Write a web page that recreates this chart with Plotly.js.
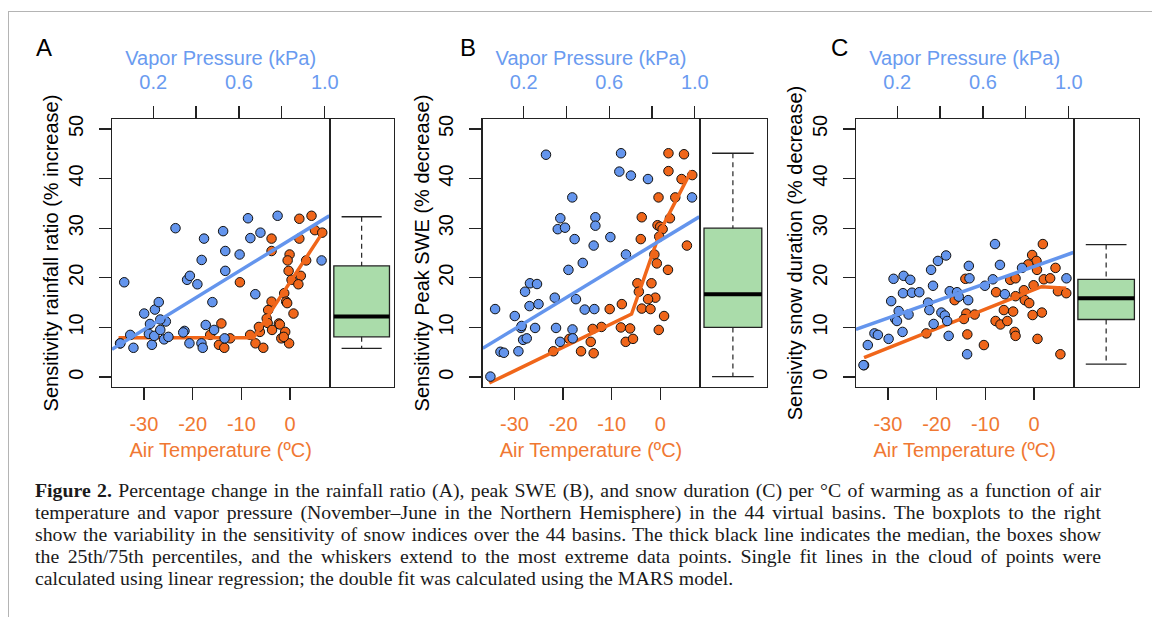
<!DOCTYPE html>
<html><head><meta charset="utf-8">
<script src="https://cdn.plot.ly/plotly-3.0.1.min.js"></script>
<style>
html,body{margin:0;padding:0;background:#fff;}
#wrap{position:relative;width:1152px;height:617px;overflow:hidden;background:#fff;}
#chart{position:absolute;left:0;top:0;width:1152px;height:617px;}
#bt{position:absolute;left:8px;top:11px;width:1144px;height:0;border-top:1.5px solid #b4b4b4;}
#bl{position:absolute;left:8px;top:11px;width:0;height:606px;border-left:1.5px solid #b4b4b4;}
#cap{position:absolute;left:35px;top:479px;width:1066px;font-family:'Liberation Serif','Times New Roman',serif;font-size:19.8px;line-height:22px;color:#1a1a1a;}
#cap div{text-align:justify;text-align-last:justify;}
#cap div.last{text-align-last:left;}
</style></head>
<body>
<div id="wrap">
<div id="chart"></div>
<div id="bt"></div><div id="bl"></div>
<div id="cap">
<div><b>Figure 2.</b> Percentage change in the rainfall ratio (A), peak SWE (B), and snow duration (C) per °C of warming as a function of air</div>
<div>temperature and vapor pressure (November–June in the Northern Hemisphere) in the 44 virtual basins. The boxplots to the right</div>
<div>show the variability in the sensitivity of snow indices over the 44 basins. The thick black line indicates the median, the boxes show</div>
<div>the 25th/75th percentiles, and the whiskers extend to the most extreme data points. Single fit lines in the cloud of points were</div>
<div class="last">calculated using linear regression; the double fit was calculated using the MARS model.</div>
</div>
</div>
<script>
// ---------- tick labels / titles ----------
const tempTicks = [-30, -20, -10, 0];
const tempTickText = ['-30', '-20', '-10', '0'];
const vapTicks = [0.2, 0.4, 0.6, 0.8, 1.0];
const vapTickText = ['0.2', '', '0.6', '', '1.0'];
const sensTicks = [0, 10, 20, 30, 40, 50];
const panelLetters = ['A', 'B', 'C'];
const yTitles = ['Sensitivity rainfall ratio (% increase)', 'Sensitivity Peak SWE (% decrease)', 'Sensivity snow duration (% decrease)'];
const xTitleBottom = 'Air Temperature (ºC)';
const xTitleTop = 'Vapor Pressure (kPa)';

// ---------- Panel A: rainfall ratio ----------
const tempA = [1.9, 4.4, 5.1, 6.6, -3.8, 1.9, -3.8, -0.1, -0.5, 3.3, -0.3, 0.3, 2.2, 1.7, -10.3, -1.2, -0.8, -3.8, -4.5, 0.7, -4.8, -14.1, -2.3, -14.6, -13.5, -12.3, -16.4, -8.2, -7.1, -5.5, -6.2, -4.6, -3.7, -2.1, -1.8, -1.0, -0.2, -6.4, -1.3, -0.6, -34.9];
const sensTempA = [31.9, 32.5, 29.6, 29.1, 27.9, 27.9, 25.4, 24.7, 23.5, 23.5, 21.4, 19.6, 20.4, 18.7, 19.1, 16.9, 15.2, 15.2, 13.5, 12.8, 11.8, 10.8, 10.8, 6.5, 5.9, 7.8, 8.5, 8.5, 6.8, 5.9, 9.1, 10.9, 9.5, 10.6, 7.8, 9.1, 6.8, 10.1, 8.1, 14.9, 6.8];
const vapA = [0.065, 0.047, 0.093, 0.108, 0.158, 0.208, 0.226, 0.185, 0.180, 0.194, 0.205, 0.233, 0.259, 0.251, 0.271, 0.346, 0.369, 0.425, 0.431, 0.445, 0.484, 0.533, 0.304, 0.437, 0.526, 0.642, 0.78, 0.653, 0.70, 0.536, 0.603, 0.426, 0.536, 0.985, 0.358, 0.371, 0.406, 0.676, 0.476, 0.233, 0.340];
const sensVapA = [19.1, 6.8, 8.5, 5.9, 12.8, 13.6, 15.1, 10.7, 8.7, 6.5, 8.3, 9.5, 11.2, 7.6, 8.1, 9.3, 6.8, 6.8, 5.9, 10.5, 9.5, 7.8, 30.0, 27.9, 29.4, 32.0, 32.5, 28.0, 29.1, 25.4, 24.7, 23.6, 21.4, 23.5, 19.6, 20.4, 18.7, 16.7, 15.1, 11.6, 9.0];
const linFitVapA = [0.008, 1.021];
const linFitSensA = [5.6, 32.5];
const marsTempA = [-35.2, -7.5, 6.8];
const marsSensA = [7.9, 7.9, 29.3];
const boxA = [5.8, 8.1, 12.2, 22.4, 32.3]; // lower whisker, q1, median, q3, upper whisker

// ---------- Panel B: peak SWE ----------
const tempB = [1.7, 4.9, 1.7, 4.4, 6.6, -0.35, 3.1, -3.8, 2.0, -0.55, 0.0, 0.5, -4.0, -0.2, 5.5, -1.2, -0.7, 1.6, -4.7, -4.4, -1.8, -1.0, -2.5, -7.9, -10.4, -3.8, -2.0, 0.8, -0.3, -8.1, -6.2, -7.1, -5.6, -12.1, -13.9, -14.3, -13.7, -16.3, -18.7, -22.0];
const sensTempB = [45.1, 44.9, 41.5, 39.9, 40.7, 36.2, 36.2, 32.2, 32.0, 30.6, 30.3, 29.8, 27.8, 28.3, 26.5, 24.7, 22.9, 21.6, 18.9, 17.2, 18.9, 16.0, 15.7, 14.7, 13.7, 13.8, 13.7, 12.3, 9.5, 10.0, 9.8, 7.1, 7.7, 10.1, 9.7, 7.1, 4.8, 5.2, 7.7, 5.2];
const vapB = [0.304, 0.655, 0.647, 0.701, 0.781, 0.987, 0.427, 0.371, 0.535, 0.535, 0.359, 0.393, 0.438, 0.605, 0.527, 0.678, 0.476, 0.409, 0.229, 0.262, 0.206, 0.345, 0.444, 0.227, 0.269, 0.066, 0.485, 0.530, 0.158, 0.187, 0.253, 0.351, 0.428, 0.197, 0.214, 0.175, 0.091, 0.107, 0.370, 0.429, 0.044, 0.19];
const sensVapB = [44.8, 45.1, 41.4, 40.6, 39.9, 36.2, 36.2, 32.0, 32.2, 30.5, 29.8, 30.1, 27.8, 28.2, 26.5, 24.7, 23.0, 21.6, 18.9, 18.75, 17.2, 16.0, 15.7, 14.3, 14.7, 13.7, 13.6, 13.7, 12.3, 9.9, 9.9, 9.9, 9.6, 7.5, 7.8, 5.2, 5.1, 4.9, 7.1, 7.8, 0.1, 10.3];
const linFitVapB = [0.008, 1.021];
const linFitSensB = [5.8, 32.3];
const marsTempB = [-35.2, -5.9, 0.1, 6.4];
const marsSensB = [-1.2, 12.7, 29.6, 41.6];
const boxB = [0.1, 10.0, 16.7, 30.0, 45.1];

// ---------- Panel C: snow duration ----------
const tempC = [1.8, -0.4, 0.5, -1.2, 0.6, 4.4, -14.1, -4.9, -3.8, 2.0, 3.3, -0.1, -7.8, -2.1, -3.8, 4.9, 6.6, -16.3, -1.9, -1.0, -6.2, -4.3, 1.6, -13.9, -12.2, -0.3, -14.4, -7.9, -6.9, -5.5, -22.1, -13.7, -4.0, -3.8, -10.3, 0.7, 5.4, -34.9];
const sensTempC = [26.8, 24.6, 23.4, 22.7, 21.6, 22.0, 19.8, 19.6, 19.9, 19.7, 19.9, 18.5, 17.1, 17.5, 16.3, 17.3, 16.9, 15.5, 15.5, 14.9, 13.5, 13.2, 13.0, 12.8, 12.6, 12.5, 11.7, 11.3, 10.6, 11.3, 8.8, 8.6, 9.1, 8.3, 6.45, 7.7, 4.6, 2.4];
const vapC = [0.656, 0.428, 0.390, 0.358, 0.534, 0.679, 0.782, 0.183, 0.230, 0.261, 0.537, 0.367, 0.609, 0.646, 0.702, 0.989, 0.227, 0.269, 0.303, 0.172, 0.344, 0.445, 0.479, 0.487, 0.531, 0.207, 0.35, 0.253, 0.406, 0.422, 0.191, 0.199, 0.433, 0.370, 0.225, 0.440, 0.094, 0.110, 0.160, 0.063, 0.043, 0.526];
const sensVapC = [26.8, 24.5, 23.4, 21.6, 22.4, 22.6, 22.0, 19.8, 20.4, 19.6, 19.9, 18.4, 18.4, 19.7, 16.7, 19.9, 16.9, 17.0, 17.1, 15.3, 15.0, 17.3, 17.1, 16.2, 15.5, 13.3, 13.5, 12.6, 13.0, 12.4, 11.7, 11.3, 11.3, 10.7, 9.1, 8.3, 8.8, 8.5, 7.7, 6.45, 2.4, 4.6];
const linFitVapC = [0.008, 1.021];
const linFitSensC = [9.6, 25.1];
const marsTempC = [-34.9, 1.5, 6.6];
const marsSensC = [3.9, 18.2, 17.9];
const boxC = [2.6, 11.6, 15.9, 19.7, 26.7];

// ---------- styling ----------
const W = 1152, H = 617;
const FONT = 'Liberation Sans, Arial, Helvetica, sans-serif';
const ORANGE = '#f0661a', ORANGE_TXT = '#f07832';
const BLUE = '#6495ed', BLUE_TXT = '#6a9bf0';
const BOXFILL = '#aadcaa';
const AX = '#222';
const plotL = [112, 482.7, 856], plotR = [329.3, 699.3, 1073.3], boxR = [394, 766.5, 1139];
const plotT = 119, plotB = 387;
const letterX = [44, 467.5, 839.5];
const tempRange = [-36.55, 8.05], vapRange = [0.008, 1.021], sensRange = [-2, 52];
const fx = p => p / W, fy = p => 1 - p / H;
const xn = id => id === 1 ? 'x' : 'x' + id;
const yn = id => id === 1 ? 'y' : 'y' + id;
const xk = id => id === 1 ? 'xaxis' : 'xaxis' + id;
const yk = id => id === 1 ? 'yaxis' : 'yaxis' + id;

const panels = [
  {temp: tempA, sT: sensTempA, vap: vapA, sV: sensVapA, lfx: linFitVapA, lfy: linFitSensA, mx: marsTempA, my: marsSensA, box: boxA},
  {temp: tempB, sT: sensTempB, vap: vapB, sV: sensVapB, lfx: linFitVapB, lfy: linFitSensB, mx: marsTempB, my: marsSensB, box: boxB},
  {temp: tempC, sT: sensTempC, vap: vapC, sV: sensVapC, lfx: linFitVapC, lfy: linFitSensC, mx: marsTempC, my: marsSensC, box: boxC}
];

const traces = [];
const layout = {
  width: W, height: H, margin: {l: 0, r: 0, t: 0, b: 0},
  paper_bgcolor: 'rgba(0,0,0,0)', plot_bgcolor: '#fff', showlegend: false,
  font: {family: FONT, size: 20, color: '#000'},
  annotations: []
};

panels.forEach((p, i) => {
  const xT = i * 3 + 1, xV = i * 3 + 2, xB = i * 3 + 3, yM = i * 2 + 1, yB = i * 2 + 2;
  const mk = (c) => ({color: c, size: 9.5, line: {color: '#111', width: 1}});
  traces.push({type: 'scatter', mode: 'markers', x: p.temp, y: p.sT, xaxis: xn(xT), yaxis: yn(yM), marker: mk(ORANGE), hoverinfo: 'skip'});
  traces.push({type: 'scatter', mode: 'lines', x: p.mx, y: p.my, xaxis: xn(xT), yaxis: yn(yM), line: {color: ORANGE, width: 3.5}, hoverinfo: 'skip'});
  traces.push({type: 'scatter', mode: 'markers', x: p.vap, y: p.sV, xaxis: xn(xV), yaxis: yn(yM), marker: mk(BLUE), hoverinfo: 'skip'});
  traces.push({type: 'scatter', mode: 'lines', x: p.lfx, y: p.lfy, xaxis: xn(xV), yaxis: yn(yM), line: {color: BLUE, width: 3.5}, hoverinfo: 'skip'});
  // box plot (stats)
  const b = p.box;
  traces.push({type: 'box', x: [0.5], q1: [b[1]], median: [b[2]], q3: [b[3]], lowerfence: [b[1]], upperfence: [b[3]],
    width: 0.86, whiskerwidth: 0, fillcolor: BOXFILL, line: {color: AX, width: 1.3}, boxpoints: false,
    xaxis: xn(xB), yaxis: yn(yB), hoverinfo: 'skip'});
  traces.push({type: 'scatter', mode: 'lines', x: [0.5, 0.5, null, 0.5, 0.5], y: [b[4], b[3], null, b[1], b[0]],
    xaxis: xn(xB), yaxis: yn(yB), line: {color: AX, width: 1.2, dash: '5px,4px'}, hoverinfo: 'skip'});
  traces.push({type: 'scatter', mode: 'lines', x: [0.19, 0.81, null, 0.19, 0.81], y: [b[4], b[4], null, b[0], b[0]],
    xaxis: xn(xB), yaxis: yn(yB), line: {color: AX, width: 1.3}, hoverinfo: 'skip'});
  traces.push({type: 'scatter', mode: 'lines', x: [0.07, 0.93], y: [b[2], b[2]],
    xaxis: xn(xB), yaxis: yn(yB), line: {color: '#000', width: 4}, hoverinfo: 'skip'});

  const dom = [fx(plotL[i]), fx(plotR[i])];
  const ydom = [fy(plotB), fy(plotT)];
  layout[xk(xT)] = {domain: dom, range: tempRange, anchor: yn(yM), side: 'bottom',
    tickmode: 'array', tickvals: tempTicks, ticktext: tempTickText, ticks: 'outside', ticklen: 12, tickwidth: 1.2, tickcolor: AX,
    ticklabelstandoff: 7, showline: true, mirror: true, linecolor: AX, linewidth: 1.3, showgrid: false, zeroline: false,
    tickfont: {family: FONT, size: 20, color: ORANGE_TXT},
    title: {text: xTitleBottom, font: {family: FONT, size: 20, color: ORANGE_TXT}, standoff: 8}};
  layout[xk(xV)] = {overlaying: xn(xT), range: vapRange, anchor: yn(yM), side: 'top',
    tickmode: 'array', tickvals: vapTicks, ticktext: vapTickText, ticks: 'outside', ticklen: 12, tickwidth: 1.2, tickcolor: AX,
    ticklabelstandoff: 9, showline: false, showgrid: false, zeroline: false,
    tickfont: {family: FONT, size: 20, color: BLUE_TXT},
    title: {text: xTitleTop, font: {family: FONT, size: 20, color: BLUE_TXT}, standoff: 0}};
  layout[yk(yM)] = {domain: ydom, range: sensRange, anchor: xn(xT),
    tickmode: 'array', tickvals: sensTicks, ticks: 'outside', ticklen: 12, tickwidth: 1.2, tickcolor: AX, tickangle: -90,
    ticklabelstandoff: 8, showline: true, mirror: true, linecolor: AX, linewidth: 1.3, showgrid: false, zeroline: false,
    tickfont: {family: FONT, size: 20, color: '#000'},
    title: {text: yTitles[i], font: {family: FONT, size: 20, color: '#000'}, standoff: 0}};
  layout[xk(xB)] = {domain: [fx(plotR[i]), fx(boxR[i])], range: [0, 1], anchor: yn(yB),
    showline: true, mirror: true, linecolor: AX, linewidth: 1.3, ticks: '', showticklabels: false, showgrid: false, zeroline: false};
  layout[yk(yB)] = {domain: ydom, range: sensRange, anchor: xn(xB), side: 'right',
    showline: true, linecolor: AX, linewidth: 1.3, ticks: '', showticklabels: false, showgrid: false, zeroline: false};
  layout.annotations.push({text: panelLetters[i], xref: 'paper', yref: 'paper', x: fx(letterX[i]), y: fy(48),
    xanchor: 'center', yanchor: 'middle', showarrow: false, font: {family: FONT, size: 24, color: '#000'}});
});

Plotly.newPlot('chart', traces, layout, {staticPlot: true, displayModeBar: false});
</script>
</body></html>
